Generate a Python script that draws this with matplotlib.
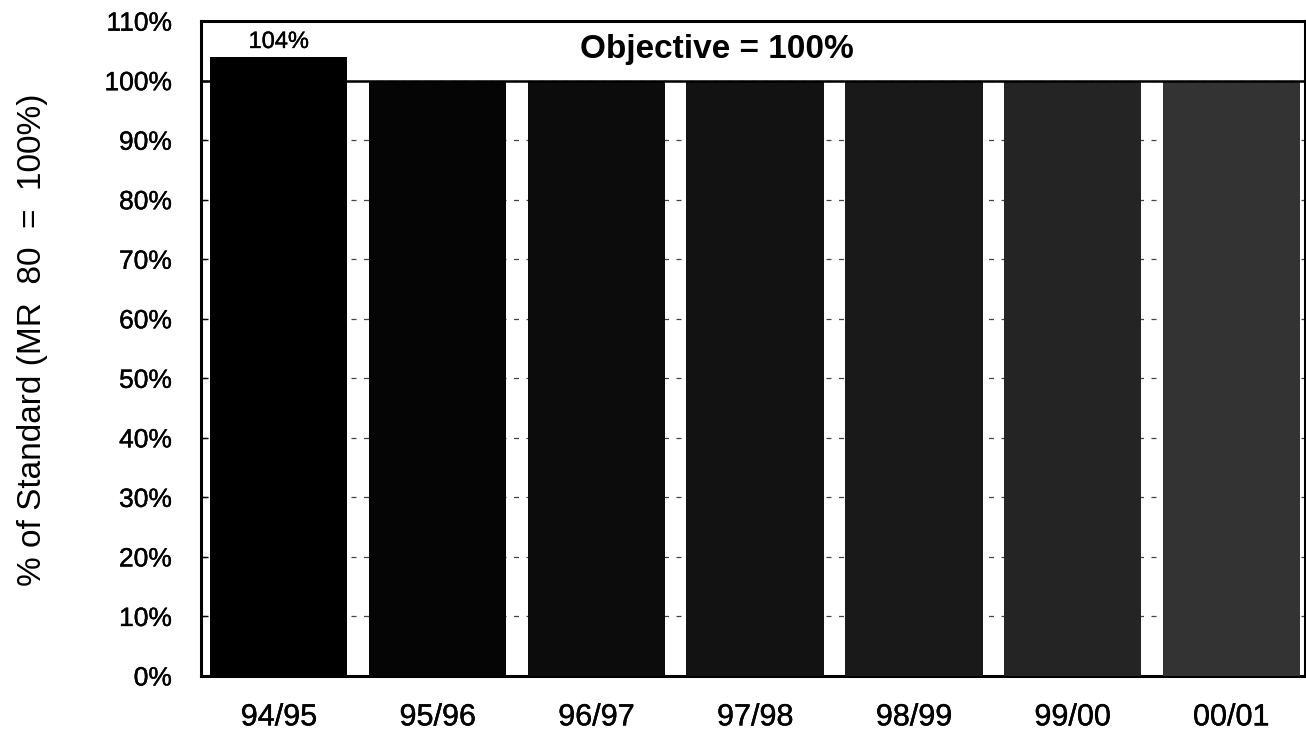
import matplotlib
matplotlib.use("Agg")
import matplotlib.pyplot as plt
import matplotlib.patheffects as pe
from matplotlib.ticker import FuncFormatter, MultipleLocator

plt.rcParams['font.family'] = ['Liberation Sans', 'DejaVu Sans']

years = ["94/95", "95/96", "96/97", "97/98", "98/99", "99/00", "00/01"]
pct_of_standard = [104, 100, 100, 100, 100, 100, 100]
bar_colors = ["#000000", "#050505", "#0c0c0c", "#121212", "#191919", "#242424", "#333333"]
objective = 100

# slightly heavier strokes for the regular-weight text
heavy = [pe.withStroke(linewidth=0.3, foreground="black")]

fig = plt.figure(figsize=(13.06, 7.30), dpi=100)
ax = fig.add_axes([0.1539, 0.074, 0.8453, 0.897])

x = list(range(len(years)))
ax.bar(x, pct_of_standard, width=0.865, color=bar_colors, zorder=3)

# objective line across the plot
ax.axhline(objective, color="black", lw=1.8, zorder=4)
ax.text(2.76, 103.8, f"Objective = {objective}%", ha="center", va="baseline",
        fontsize=24, fontweight="bold", zorder=5)

# value label over the first bar
ax.text(x[0], pct_of_standard[0] + 1.5, f"{pct_of_standard[0]}%", ha="center",
        va="baseline", fontsize=17, path_effects=heavy)

ax.set_xlim(-0.49, 6.463)
ax.set_ylim(0, 110)
ax.yaxis.set_major_locator(MultipleLocator(10))
ax.yaxis.set_major_formatter(FuncFormatter(lambda v, p: f"{v:.0f}%"))
ax.set_xticks(x)
ax.set_xticklabels(years, fontsize=22)
ax.tick_params(axis="y", labelsize=19, direction="in", length=5, width=1, pad=21)
ax.tick_params(axis="x", length=0, pad=19)
for lbl in ax.get_xticklabels() + ax.get_yticklabels():
    lbl.set_path_effects(heavy)

ax.yaxis.grid(True, linestyle=(0, (4, 6)), color="#444444", lw=0.9, zorder=0)
ax.set_axisbelow(True)

for s in ax.spines.values():
    s.set_linewidth(2.2)
    s.set_color("black")

fig.text(33 / 1306, 0.534, "% of Standard (MR  80  =  100%)", rotation=90,
         ha="center", va="center", fontsize=24)

fig.savefig("out.png", dpi=100)
